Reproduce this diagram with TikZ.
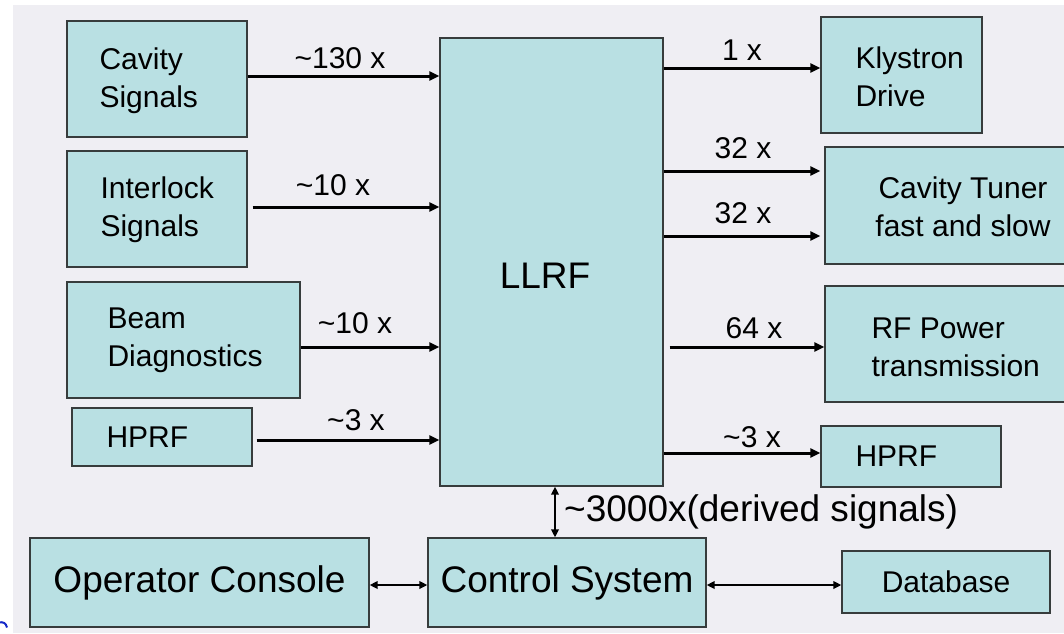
\documentclass[tikz,border=0pt]{standalone}
\usepackage{fontspec}
\setmainfont{Liberation Sans}
\usetikzlibrary{arrows.meta}
\definecolor{bg}{RGB}{239,238,243}
\definecolor{boxfill}{RGB}{185,224,227}
\definecolor{boxline}{RGB}{55,60,60}
\definecolor{fragblue}{RGB}{20,40,200}
\begin{document}
\begin{tikzpicture}[x=1pt,y=-1pt,
 box/.style={draw=boxline, line width=1.3pt, fill=boxfill, inner sep=0pt},
 txt/.style={font=\fontsize{30}{38}\selectfont, align=left, inner sep=0pt, anchor=west},
 big/.style={font=\fontsize{37}{44}\selectfont, inner sep=0pt},
 lab/.style={font=\fontsize{30}{36}\selectfont, inner sep=0pt},
 arr/.style={line width=3pt, -{Triangle[length=10pt,width=9pt]}},
 darr/.style={line width=2.6pt, {Triangle[length=8pt,width=7.5pt]}-{Triangle[length=8pt,width=7.5pt]}}]
\useasboundingbox (0,0) rectangle (1064,633);
\fill[bg] (13,5) rectangle (1064,633);
% small blue fragment at the left edge
\draw[fragblue, line width=2pt] (-1,622.5) .. controls (3,621.5) and (6,623) .. (7,627.5);

% left inputs
\node[box, minimum width=180pt, minimum height=116pt] (cav) at (157,79) {};
\node[txt] (cavT) at ([xshift=33pt,yshift=-2pt]cav.west) {Cavity\\Signals};
\node[box, minimum width=180pt, minimum height=116pt] (inter) at (157,209) {};
\node[txt] (interT) at ([xshift=34pt,yshift=-1pt]inter.west) {Interlock\\Signals};
\node[box, minimum width=233pt, minimum height=116pt] (beam) at (183.5,340) {};
\node[txt] (beamT) at ([xshift=41pt]beam.west) {Beam\\Diagnostics};
\node[box, minimum width=180pt, minimum height=58pt] (hprfL) at (162,437) {};
\node[txt] (hprfLT) at ([xshift=35pt]hprfL.west) {HPRF};

% LLRF
\node[box, minimum width=223pt, minimum height=448pt] (llrf) at (551.5,262) {};
\node[big] (llrfT) at (545,276) {LLRF};

% right outputs
\node[box, minimum width=161pt, minimum height=116pt] (kly) at (901.5,75) {};
\node[txt] (klyT) at ([xshift=35pt,yshift=-2pt]kly.west) {Klystron\\Drive};
\node[box, minimum width=276pt, minimum height=117pt] (tuner) at (963,205.5) {};
\node[lab, align=center, font=\fontsize{30}{38}\selectfont] (tunerT) at (963,207) {Cavity Tuner\\fast and slow};
\node[box, minimum width=276pt, minimum height=116pt] (rfp) at (963,344) {};
\node[txt] (rfpT) at ([xshift=47pt,yshift=-3pt]rfp.west) {RF Power\\transmission};
\node[box, minimum width=180pt, minimum height=61pt] (hprfR) at (911,456.5) {};
\node[txt] (hprfRT) at ([xshift=35pt]hprfR.west) {HPRF};

% bottom row
\node[box, big, minimum width=339pt, minimum height=89pt] (op) at (199.5,582.5) {Operator Console};
\node[box, big, minimum width=278pt, minimum height=89pt] (ctrl) at (567,582.5) {Control System};
\node[box, font=\fontsize{30}{36}\selectfont, minimum width=208pt, minimum height=62pt] (db) at (946,582) {Database};

% input arrows
\draw[arr] (cav.east |- 0,76) -- (llrf.west |- 0,76);
\draw[arr, shorten <=5pt] (inter.east |- 0,207) -- (llrf.west |- 0,207);
\draw[arr] (beam.east |- 0,347) -- (llrf.west |- 0,347);
\draw[arr, shorten <=4pt] (hprfL.east |- 0,440) -- (llrf.west |- 0,440);
\node[lab] (l1) at (340,58) {\textasciitilde130 x};
\node[lab] (l2) at (333,185) {\textasciitilde10 x};
\node[lab] (l3) at (355,323) {\textasciitilde10 x};
\node[lab] (l4) at (356,420) {\textasciitilde3 x};

% output arrows
\draw[arr] (llrf.east |- 0,68) -- (kly.west |- 0,68);
\draw[arr, shorten >=4pt] (llrf.east |- 0,171) -- (tuner.west |- 0,171);
\draw[arr, shorten >=4pt] (llrf.east |- 0,236) -- (tuner.west |- 0,236);
\draw[arr, shorten <=6pt] (llrf.east |- 0,347) -- (rfp.west |- 0,347);
\draw[arr] (llrf.east |- 0,453) -- (hprfR.west |- 0,453);
\node[lab] (r1) at (742,50) {1 x};
\node[lab] (r2) at (743,148) {32 x};
\node[lab] (r3) at (743,213) {32 x};
\node[lab] (r4) at (754,328) {64 x};
\node[lab] (r5) at (752,437) {\textasciitilde3 x};

% bottom connectors
\draw[darr] (llrf.south -| 555,0) -- (ctrl.north -| 555,0);
\node[big, anchor=west] (l10) at (564,512) {\textasciitilde3000x(derived signals)};
\draw[darr] (op.east |- 0,585) -- (ctrl.west |- 0,585);
\draw[darr] (ctrl.east |- 0,585) -- (db.west |- 0,585);
\end{tikzpicture}
\end{document}
